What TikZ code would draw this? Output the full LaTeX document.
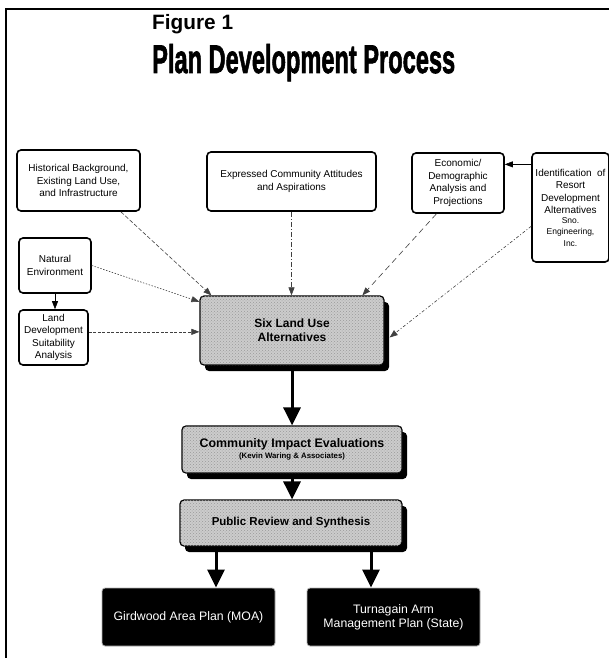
\documentclass[tikz,border=0pt]{standalone}
\usepackage{fontspec}
\setmainfont{Liberation Sans}
\newfontfamily\heavyfont[FakeBold=2]{Liberation Sans Bold}
\usetikzlibrary{arrows.meta,calc,shadows,patterns}

\begin{document}
\begin{tikzpicture}[x=1pt,y=-1pt,
  inbox/.style={draw, line width=1.6pt, rounded corners=4pt, fill=white,
    align=center, inner sep=0pt, font=\fontsize{10}{12.5}\selectfont},
  graybox/.style={draw, line width=1.2pt, rounded corners=4pt,
    fill=gray!40, align=center, inner sep=0pt,
    drop shadow={shadow xshift=5pt, shadow yshift=-6pt, opacity=1, fill=black},
    postaction={pattern=crosshatch dots, pattern color=gray!80}},
  blackbox/.style={draw=gray!60, line width=0.8pt, rounded corners=3pt,
    fill=black, text=white, align=center, inner sep=0pt,
    font=\fontsize{12.3}{14}\selectfont},
  thin/.style={line width=0.6pt, draw=black!75, -{Triangle[width=6pt,length=8pt]}},
  thick/.style={line width=3pt, -{Triangle[width=17pt,length=18pt]}},
  frame/.style={line width=2.2pt}
]
\useasboundingbox (0,0) rectangle (609,658);

% page frame
\coordinate (fTL) at (6,9);
\coordinate (fBL) at (6,658);
\coordinate (fTR) at (609,9);
\draw[frame] (fBL) -- (fTL) -- (fTR);

% title
\node[anchor=base west, inner sep=0pt, font=\bfseries\fontsize{20.8}{21}\selectfont]
  (fig) at (152,30) {Figure 1};
\node[anchor=base west, inner sep=0pt] (title) at (152,73)
  {\resizebox{303pt}{29pt}{\heavyfont Plan Development Process}};

% source boxes
\node[inbox, minimum width=123pt, minimum height=61pt] (hist) at (78.5,180.5)
  {Historical Background,\\Existing Land Use,\\and Infrastructure};
\node[inbox, minimum width=169pt, minimum height=59pt] (expr) at (291.5,181.5)
  {Expressed Community Attitudes\\and Aspirations};
\node[inbox, minimum width=92pt, minimum height=60pt] (econ) at (458,183)
  {Economic/\\Demographic\\Analysis and\\Projections};
\node[inbox, minimum width=77pt, minimum height=109pt] (ident) at (570.5,207.5)
  {Identification\ \ of\\Resort\\Development\\Alternatives\\[-3pt]
   {\fontsize{8.5}{12}\selectfont Sno.}\\[-1pt]
   {\fontsize{8.5}{12}\selectfont Engineering,}\\[-1pt]
   {\fontsize{8.5}{12}\selectfont Inc.}};
\node[inbox, minimum width=72pt, minimum height=55pt] (nat) at (55,265.5)
  {Natural\\Environment};
\node[inbox, minimum width=69pt, minimum height=55pt] (land) at (53.5,337.5)
  {Land\\Development\\Suitability\\Analysis};

% process boxes
\node[graybox, minimum width=184pt, minimum height=69pt,
  font=\bfseries\fontsize{12}{14}\selectfont] (six) at (292,330.5)
  {Six Land Use\\Alternatives};
\node[graybox, minimum width=220pt, minimum height=47pt] (cie) at (292,449.5)
  {{\bfseries\fontsize{12.4}{13}\selectfont Community Impact Evaluations}\\[-1pt]
   {\bfseries\fontsize{7.8}{9}\selectfont (Kevin Waring \& Associates)}};
\node[graybox, minimum width=222pt, minimum height=46pt,
  font=\bfseries\fontsize{11.5}{12}\selectfont] (pub) at (291,523)
  {Public Review and Synthesis};

% results
\node[blackbox, minimum width=173pt, minimum height=58pt] (gird) at (188.5,617)
  {Girdwood Area Plan (MOA)};
\node[blackbox, minimum width=173pt, minimum height=58pt] (turn) at (393.5,617)
  {Turnagain Arm\\Management Plan (State)};

% connector end points on the box borders
\coordinate (histOut) at ($(hist.south west)!0.84!(hist.south east)$);
\coordinate (sixInA)  at ($(six.north west)!0.065!(six.north east)$);
\coordinate (econOut) at ($(econ.south west)!0.27!(econ.south east)$);
\coordinate (sixInB)  at ($(six.north west)!0.88!(six.north east)$);
\coordinate (identOutA) at ($(ident.north west)!0.67!(ident.south west)$);
\coordinate (sixInC)  at ($(six.north east)!0.6!(six.south east)+(5,0)$);
\coordinate (identOutB) at ($(ident.north west)!0.11!(ident.south west)$);
\coordinate (sixInD)  at ($(six.north west)!0.09!(six.south west)$);
\coordinate (landOut) at ($(land.north east)!0.4!(land.south east)$);

% inputs to the alternatives
\draw[thin, dash pattern=on 4pt off 2pt] (histOut) -- (sixInA);
\draw[thin, dash pattern=on 5pt off 2pt on 1pt off 2pt]
  (expr.south) -- (expr.south |- six.north);
\draw[thin, dash pattern=on 6pt off 4pt] (econOut) -- (sixInB);
\draw[thin, dash pattern=on 3pt off 2pt on 1pt off 2pt] (identOutA) -- (sixInC);
\draw[thin, draw=black] (identOutB) -- (identOutB -| econ.east);
\draw[thin, dash pattern=on 1.5pt off 1.5pt] (nat.east) -- (sixInD);
\draw[thin, draw=black] (nat.south) -- (nat.south |- land.north);
\draw[thin, dash pattern=on 3pt off 1.5pt] (landOut) -- (landOut -| six.west);

% main flow
\draw[thick] (six.south) -- (cie.north);
\draw[thick] (cie.south) -- (cie.south |- pub.north);
\coordinate (pg) at ($(pub.south -| gird.north)+(27.5,0)$);
\coordinate (pt) at ($(pub.south -| turn.north)+(-22.5,0)$);
\draw[thick] (pg) -- (pg |- gird.north);
\draw[thick] (pt) -- (pt |- turn.north);
\end{tikzpicture}
\end{document}
